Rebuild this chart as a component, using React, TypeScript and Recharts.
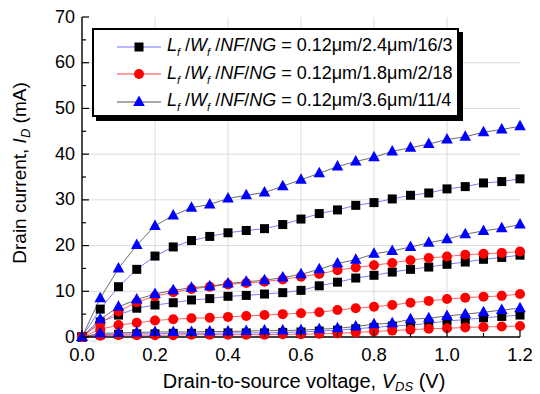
import React from "react";
import {
  LineChart,
  Line,
  XAxis,
  YAxis,
  CartesianGrid,
} from "recharts";

// drain-source voltage sweep (V)
const vds = [
  0, 0.05, 0.1, 0.15, 0.2, 0.25, 0.3, 0.35, 0.4, 0.45, 0.5, 0.55, 0.6, 0.65,
  0.7, 0.75, 0.8, 0.85, 0.9, 0.95, 1.0, 1.05, 1.1, 1.15, 1.2,
];

// 2.4um / 16 / 3 device (squares)
const sqHigh = [0, 6.1, 11.0, 14.8, 17.7, 19.7, 21.1, 22.0, 22.8, 23.3, 23.7, 24.6, 25.8, 27.0, 27.8, 28.8, 29.4, 30.2, 31.0, 31.5, 32.4, 32.9, 33.7, 34.0, 34.6];
const sqMid = [0, 3.3, 4.8, 6.3, 7.0, 7.5, 8.1, 8.4, 8.9, 9.1, 9.4, 9.7, 10.2, 11.2, 12.0, 12.9, 13.5, 14.2, 14.8, 15.3, 15.9, 16.4, 17.0, 17.4, 17.9];
const sqLow = [0, 0.5, 0.6, 0.7, 0.7, 0.8, 0.8, 0.8, 0.9, 0.9, 0.9, 1.0, 1.1, 1.3, 1.5, 1.8, 2.1, 2.4, 2.6, 3.0, 3.5, 3.8, 4.2, 4.5, 4.8];

// 1.8um / 2 / 18 device (circles)
const ciHigh = [0, 3.0, 5.6, 7.6, 8.9, 9.8, 10.5, 11.0, 11.5, 11.8, 12.1, 12.6, 13.2, 13.8, 14.6, 15.2, 15.7, 16.2, 16.8, 17.3, 17.6, 18.0, 18.2, 18.4, 18.7];
const ciMid = [0, 1.7, 2.6, 3.1, 3.6, 3.9, 4.1, 4.2, 4.4, 4.6, 4.8, 5.0, 5.2, 5.4, 5.9, 6.3, 6.6, 7.0, 7.5, 7.9, 8.3, 8.6, 8.8, 9.0, 9.4];
const ciLow = [0, 0.3, 0.4, 0.4, 0.4, 0.4, 0.5, 0.5, 0.5, 0.5, 0.5, 0.6, 0.6, 0.7, 0.8, 1.0, 1.2, 1.4, 1.6, 1.8, 1.9, 2.1, 2.2, 2.3, 2.4];

// 3.6um / 11 / 4 device (triangles)
const trHigh = [0, 8.5, 15.0, 20.1, 24.3, 26.6, 28.3, 29.0, 30.3, 31.0, 31.6, 33.0, 34.4, 35.8, 37.3, 38.4, 39.3, 40.6, 41.4, 42.2, 43.2, 43.8, 44.8, 45.4, 46.1];
const trMid = [0, 3.9, 6.6, 8.2, 9.4, 10.2, 10.8, 11.1, 11.7, 12.1, 12.4, 13.0, 13.7, 14.8, 16.1, 16.9, 18.2, 18.8, 19.7, 20.6, 21.4, 22.5, 23.2, 23.8, 24.6];
const trLow = [0, 0.8, 0.9, 1.0, 1.1, 1.1, 1.1, 1.2, 1.2, 1.3, 1.4, 1.4, 1.5, 1.7, 1.9, 2.3, 2.8, 3.0, 3.9, 4.1, 4.6, 5.0, 5.4, 5.9, 6.3];

const xTicks = [0, 0.1, 0.2, 0.3, 0.4, 0.5, 0.6, 0.7, 0.8, 0.9, 1.0, 1.1, 1.2];
const yTicks = [0, 5, 10, 15, 20, 25, 30, 35, 40, 45, 50, 55, 60, 65, 70];
const xGrid = [0.2, 0.4, 0.6, 0.8, 1.0];
const yGrid = [10, 20, 30, 40, 50, 60];

const legendDevices = ["2.4μm/16/3", "1.8μm/2/18", "3.6μm/11/4"];

const data = vds.map((v, i) => ({
  v,
  sqHigh: sqHigh[i], sqMid: sqMid[i], sqLow: sqLow[i],
  ciHigh: ciHigh[i], ciMid: ciMid[i], ciLow: ciLow[i],
  trHigh: trHigh[i], trMid: trMid[i], trLow: trLow[i],
}));

const FONT = "'Liberation Sans', Arial, Helvetica, sans-serif";
const Y_GAP = 6;
const X_GAP = 4;

const isMajorX = (v: number) => Math.round(v * 10) % 2 === 0;

const BottomTick = ({ x, y, payload }: any) => {
  const major = isMajorX(payload.value);
  const ay = y - X_GAP;
  return (
    <g>
      <line x1={x} x2={x} y1={ay} y2={ay - (major ? 7 : 4)} stroke="#000" strokeWidth={1.2} />
      {major && (
        <text x={x} y={ay + 24} textAnchor="middle" fontSize={18.5} fontFamily={FONT} fill="#000">
          {Number(payload.value).toFixed(1)}
        </text>
      )}
    </g>
  );
};

const TopTick = ({ x, y, payload }: any) => {
  const major = isMajorX(payload.value);
  return <line x1={x} x2={x} y1={y} y2={y + (major ? 7 : 4)} stroke="#000" strokeWidth={1.2} />;
};

const LeftTick = ({ x, y, payload }: any) => {
  const major = payload.value % 10 === 0;
  const ax = x + Y_GAP;
  return (
    <g>
      <line x1={ax} x2={ax + (major ? 7 : 4)} y1={y} y2={y} stroke="#000" strokeWidth={1.2} />
      {major && (
        <text x={x - 1} y={y + 5.5} textAnchor="end" fontSize={18} fontFamily={FONT} fill="#000">
          {payload.value}
        </text>
      )}
    </g>
  );
};

const RightTick = ({ x, y, payload }: any) => {
  const major = payload.value % 10 === 0;
  return <line x1={x} x2={x - (major ? 7 : 4)} y1={y} y2={y} stroke="#000" strokeWidth={1.2} />;
};

const squareDot = (p: any) => (
  <rect key={`s${p.dataKey}${p.index}`} x={p.cx - 4.5} y={p.cy - 4.5} width={9} height={9} fill="#000" />
);
const circleDot = (p: any) => (
  <circle key={`c${p.dataKey}${p.index}`} cx={p.cx} cy={p.cy} r={5} fill="#ff0000" />
);
const triangleDot = (p: any) => (
  <polygon
    key={`t${p.dataKey}${p.index}`}
    points={`${p.cx},${p.cy - 6.5} ${p.cx - 5.8},${p.cy + 4} ${p.cx + 5.8},${p.cy + 4}`}
    fill="#0000ff"
  />
);

const series = [
  { key: "sqHigh", line: "#5a5aff", dot: squareDot },
  { key: "sqMid", line: "#5a5aff", dot: squareDot },
  { key: "sqLow", line: "#5a5aff", dot: squareDot },
  { key: "ciHigh", line: "#ff3b3b", dot: circleDot },
  { key: "ciMid", line: "#ff3b3b", dot: circleDot },
  { key: "ciLow", line: "#ff3b3b", dot: circleDot },
  { key: "trHigh", line: "#444", dot: triangleDot },
  { key: "trMid", line: "#444", dot: triangleDot },
  { key: "trLow", line: "#444", dot: triangleDot },
];

const legendSymbols = [
  { line: "#7070ff", marker: <rect x={17.5} y={2.5} width={9} height={9} fill="#000" /> },
  { line: "#ff3b3b", marker: <circle cx={22} cy={7} r={5} fill="#ff0000" /> },
  { line: "#555", marker: <polygon points="22,0.5 16.2,11 27.8,11" fill="#0000ff" /> },
];

const YLabel = ({ viewBox }: any) => {
  const cx = 18;
  const cy = viewBox.y + viewBox.height / 2 - 4;
  return (
    <text
      x={cx}
      y={cy}
      transform={`rotate(-90 ${cx} ${cy})`}
      textAnchor="middle"
      fontSize={19}
      fontFamily={FONT}
      fill="#000"
    >
      Drain current, <tspan fontStyle="italic">I</tspan>
      <tspan fontStyle="italic" fontSize={13} dy={4}>D</tspan>
      <tspan dy={-4}> (mA)</tspan>
    </text>
  );
};

const XLabel = ({ viewBox }: any) => {
  const cx = viewBox.x + viewBox.width / 2 + 3;
  return (
    <text x={cx} y={380} textAnchor="middle" fontSize={20} fontFamily={FONT} fill="#000">
      Drain-to-source voltage, <tspan fontStyle="italic">V</tspan>
      <tspan fontStyle="italic" fontSize={13} dy={3}>DS</tspan>
      <tspan dy={-3}> (V)</tspan>
    </text>
  );
};

export default function App() {
  return (
    <div style={{ position: "relative", width: 532, height: 386, fontFamily: FONT }}>
      <LineChart
        width={532}
        height={386}
        data={data}
        margin={{ top: 9, right: 20, bottom: 0, left: 0 }}
      >
        <CartesianGrid
          stroke="#dcdcdc"
          strokeWidth={1}
          verticalValues={xGrid}
          horizontalValues={yGrid}
        />
        <XAxis
          dataKey="v"
          type="number"
          domain={[0, 1.2]}
          ticks={xTicks}
          interval={0}
          height={57}
          tickSize={0}
          tickMargin={X_GAP}
          tickLine={false}
          tick={<BottomTick />}
          axisLine={{ stroke: "#000", strokeWidth: 1.4 }}
          label={<XLabel />}
        />
        <XAxis
          xAxisId="top"
          orientation="top"
          dataKey="v"
          type="number"
          domain={[0, 1.2]}
          ticks={xTicks}
          interval={0}
          height={0}
          tickSize={0}
          tickMargin={0}
          tickLine={false}
          tick={<TopTick />}
          axisLine={{ stroke: "#000", strokeWidth: 1.4 }}
        />
        <YAxis
          type="number"
          domain={[0, 70]}
          ticks={yTicks}
          interval={0}
          width={74}
          tickSize={0}
          tickMargin={Y_GAP}
          tickLine={false}
          tick={<LeftTick />}
          axisLine={{ stroke: "#000", strokeWidth: 1.4 }}
          label={<YLabel />}
        />
        <YAxis
          yAxisId="right"
          orientation="right"
          type="number"
          domain={[0, 70]}
          ticks={yTicks}
          interval={0}
          width={0}
          tickSize={0}
          tickMargin={0}
          tickLine={false}
          tick={<RightTick />}
          axisLine={{ stroke: "#000", strokeWidth: 1.4 }}
        />
        {series.map((s) => (
          <Line
            key={s.key}
            type="linear"
            dataKey={s.key}
            stroke={s.line}
            strokeWidth={0.8}
            dot={s.dot}
            activeDot={false}
            isAnimationActive={false}
          />
        ))}
      </LineChart>
      <div
        style={{
          position: "absolute",
          left: 84,
          top: 20,
          width: 367,
          height: 89,
          boxSizing: "border-box",
          border: "2px solid #000",
          boxShadow: "4px 4px 0 #000",
          background: "#fff",
          paddingTop: 3,
        }}
      >
        {legendDevices.map((d, i) => (
          <div
            key={d}
            style={{ display: "flex", alignItems: "center", height: 27.5, fontSize: 18, whiteSpace: "nowrap" }}
          >
            <svg width={44} height={14} style={{ marginLeft: 23, marginRight: 6 }}>
              <line x1={0} x2={44} y1={7} y2={7} stroke={legendSymbols[i].line} strokeWidth={1} />
              {legendSymbols[i].marker}
            </svg>
            <span>
              <i>L</i>
              <sub style={{ fontSize: 11, fontStyle: "italic" }}>f</sub>
              {" /"}
              <i>W</i>
              <sub style={{ fontSize: 11, fontStyle: "italic" }}>f</sub>
              {" /"}
              <i>NF</i>/<i>NG</i>
              {" = 0.12μm/" + d}
            </span>
          </div>
        ))}
      </div>
    </div>
  );
}
